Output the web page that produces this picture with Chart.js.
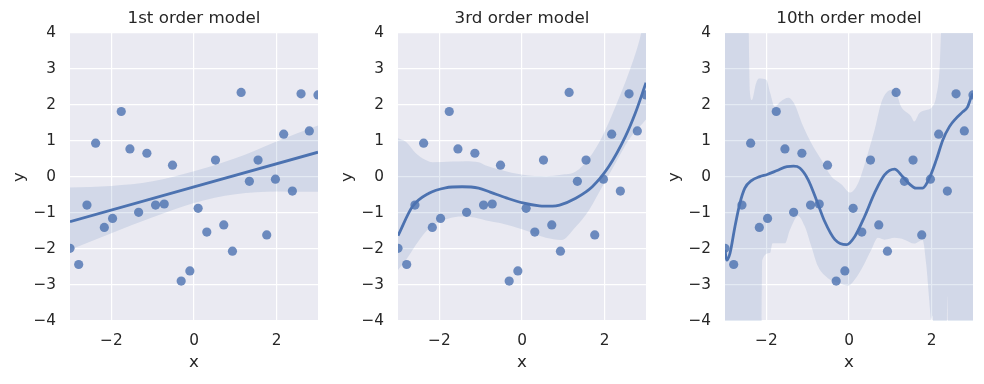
<!DOCTYPE html>
<html>
<head>
<meta charset="utf-8">
<script src="https://cdn.jsdelivr.net/npm/chart.js@4.4.1/dist/chart.umd.min.js"></script>
<style>
  html, body { margin: 0; padding: 0; background: #ffffff; }
  #wrap { position: relative; width: 984px; height: 384px; }
  .panel { position: absolute; top: 0; width: 328px; height: 384px; }
</style>
</head>
<body>
<div id="wrap">
  <div class="panel" style="left:0px"><canvas id="c1"></canvas></div>
  <div class="panel" style="left:328px"><canvas id="c2"></canvas></div>
  <div class="panel" style="left:655px"><canvas id="c3"></canvas></div>
</div>
<script>
// observations (same in all three panels)
const pointsX = [-3.0, -2.79, -2.59, -2.38, -2.17, -1.97, -1.76, -1.55, -1.34, -1.14,
                 -0.93, -0.72, -0.52, -0.31, -0.10, 0.10, 0.31, 0.52, 0.72, 0.93,
                 1.14, 1.34, 1.55, 1.76, 1.97, 2.17, 2.38, 2.59, 2.79, 3.0];
const pointsY = [-1.98, -2.43, -0.78, 0.94, -1.40, -1.15, 1.82, 0.78, -0.98, 0.66,
                 -0.78, -0.75, 0.33, -2.89, -2.61, -0.87, -1.53, 0.47, -1.33, -2.06,
                 2.35, -0.12, 0.47, -1.61, -0.06, 1.19, -0.39, 2.31, 1.28, 2.28];

const titles = ['1st order model', '3rd order model', '10th order model'];
const xTicks = [-2, 0, 2];
const yTicks = [-4, -3, -2, -1, 0, 1, 2, 3, 4];

// 1st order
const fit1X = [-3, 3];
const fit1Y = [-1.24, 0.69];
const up1X = [-3, -2, -1, 0, 1, 2, 3];
const up1Y = [-0.29, -0.25, -0.12, 0.16, 0.52, 0.99, 1.43];
const lo1X = [-3, -2, -1, 0, 1, 2, 3];
const lo1Y = [-2.02, -1.56, -1.12, -0.72, -0.48, -0.40, -0.41];

// 3rd order
const fit2X = [-3.0, -2.65, -2.25, -1.85, -1.45, -1.05, -0.77, -0.38, 0.02, 0.42, 0.74, 0.91, 1.30, 1.70, 2.10, 2.50, 2.74, 3.0];
const fit2Y = [-1.63, -0.82, -0.45, -0.30, -0.27, -0.31, -0.42, -0.58, -0.72, -0.80, -0.81, -0.78, -0.59, -0.27, 0.29, 1.12, 1.77, 2.62];
const up2X = [-3.0, -2.81, -2.57, -2.33, -2.17, -1.69, -1.37, -1.05, -0.89, -0.53, 0.02, 0.58, 0.95, 1.30, 1.62, 1.94, 2.26, 2.58, 2.82, 2.90, 3.0];
const up2Y = [1.08, 0.98, 0.66, 0.47, 0.41, 0.43, 0.44, 0.41, 0.33, 0.20, 0.06, 0.02, 0.06, 0.15, 0.52, 1.12, 1.95, 2.88, 3.71, 4.08, 4.6];
const lo2X = [-3.0, -2.81, -2.57, -2.33, -2.09, -1.77, -1.45, -1.05, -0.89, -0.53, 0.02, 0.58, 0.95, 1.30, 1.62, 1.94, 2.26, 2.58, 3.0];
const lo2Y = [-2.58, -2.31, -1.89, -1.52, -1.29, -1.15, -1.10, -1.15, -1.20, -1.28, -1.46, -1.69, -1.75, -1.38, -0.92, -0.27, 0.38, 1.03, 1.6];

// 10th order
const fit3X = [-3.0, -2.96, -2.88, -2.76, -2.64, -2.52, -2.36, -2.16, -1.98, -1.74, -1.50, -1.34, -1.19, -0.99, -0.79, -0.59, -0.34, -0.06,
               0.14, 0.38, 0.62, 0.86, 1.10, 1.30, 1.46, 1.62, 1.78, 1.94, 2.11, 2.27, 2.43, 2.59, 2.75, 2.87, 2.95, 3.0];
const fit3Y = [-2.03, -2.31, -2.12, -1.38, -0.73, -0.31, -0.10, 0.01, 0.07, 0.18, 0.29, 0.30, 0.25, -0.07, -0.63, -1.23, -1.74, -1.88,
               -1.65, -1.09, -0.44, 0.06, 0.22, 0.01, -0.19, -0.31, -0.31, -0.04, 0.47, 1.03, 1.40, 1.63, 1.81, 1.95, 2.20, 2.32];
const up3X = [-3.0, -2.44, -2.40, -2.35, -2.25, -2.18, -2.0, -1.91, -1.80, -1.65, -1.47, -1.33, -1.11, -0.91, -0.67, -0.43, -0.18,
              0.02, 0.22, 0.46, 0.62, 0.78, 0.94, 1.10, 1.26, 1.50, 1.58, 1.70, 1.87, 1.99, 2.11, 2.19, 2.23, 2.26, 3.0];
const up3Y = [4.6, 4.6, 2.4, 2.14, 2.6, 2.74, 2.7, 2.35, 1.96, 2.1, 2.2, 2.05, 1.41, 0.94, 0.48, 0.02, -0.21,
              -0.43, -0.17, 0.67, 1.31, 2.06, 2.38, 2.43, 1.96, 1.69, 1.54, 1.77, 1.86, 1.92, 2.23, 2.97, 4.1, 4.6, 4.6];
const lo3X = [-3.0, -2.12, -2.10, -1.91, -1.85, -1.55, -1.43, -1.23, -1.07, -0.91, -0.75, -0.51, -0.26, -0.02, 0.14, 0.34,
              0.54, 0.70, 0.86, 1.10, 1.34, 1.58, 1.78, 1.87, 1.94, 1.99, 2.02, 2.06, 2.36, 2.38, 2.40, 3.0];
const lo3Y = [-4.6, -4.6, -2.31, -2.11, -1.84, -1.84, -1.47, -1.08, -1.37, -1.93, -2.48, -2.81, -2.94, -3.02, -2.85, -2.48,
              -2.02, -1.69, -1.74, -1.69, -1.74, -1.85, -1.75, -2.44, -3.4, -3.97, -3.85, -4.6, -4.6, -3.3, -4.6, -4.6];

const textColor = '#262626';
const fontFamily = "'DejaVu Sans', sans-serif";

function pairs(xs, ys) {
    return xs.map((x, i) => ({ x: x, y: ys[i] }));
}

function minusSign(v) {
    return String(v).replace('-', '\u2212');
}

const plotBackground = {
    id: 'plotBackground',
    beforeDraw(chart) {
        const { ctx, chartArea: a } = chart;
        ctx.save();
        ctx.fillStyle = '#EAEAF2';
        ctx.fillRect(a.left, a.top, a.width, a.height);
        ctx.restore();
    }
};

// the built-in title centres over the whole canvas, matplotlib centres over the axes
const axesTitle = {
    id: 'axesTitle',
    afterDraw(chart, args, opts) {
        const { ctx, chartArea: a } = chart;
        ctx.save();
        ctx.fillStyle = textColor;
        ctx.font = '16.7px ' + fontFamily;
        ctx.textAlign = 'center';
        ctx.textBaseline = 'middle';
        ctx.fillText(opts.text, (a.left + a.right) / 2, 19);
        ctx.restore();
    }
};

function makePanel(id, title, fitX, fitY, upX, upY, loX, loY) {
    new Chart(document.getElementById(id), {
        type: 'line',
        data: {
            datasets: [
                {
                    data: pairs(fitX, fitY),
                    borderColor: '#4C72B0',
                    borderWidth: 2.8,
                    pointRadius: 0,
                    cubicInterpolationMode: 'monotone',
                    fill: false,
                    clip: 0,
                    order: 0
                },
                {
                    data: pairs(pointsX, pointsY),
                    showLine: false,
                    pointRadius: 4.6,
                    pointBorderWidth: 0,
                    pointBackgroundColor: 'rgba(76, 114, 176, 0.8)',
                    clip: 0,
                    order: 3
                },
                {
                    data: pairs(upX, upY),
                    borderWidth: 0,
                    borderColor: 'rgba(0,0,0,0)',
                    pointRadius: 0,
                    cubicInterpolationMode: 'monotone',
                    backgroundColor: 'rgba(76, 114, 176, 0.15)',
                    fill: '+1',
                    clip: 0,
                    order: 2
                },
                {
                    data: pairs(loX, loY),
                    borderWidth: 0,
                    borderColor: 'rgba(0,0,0,0)',
                    pointRadius: 0,
                    cubicInterpolationMode: 'monotone',
                    fill: false,
                    clip: 0,
                    order: 2
                }
            ]
        },
        options: {
            responsive: true,
            maintainAspectRatio: false,
            animation: false,
            events: [],
            layout: { padding: { left: 0, right: 10, top: 0, bottom: 0 } },
            plugins: {
                legend: { display: false },
                tooltip: { enabled: false },
                // kept only to reserve the space above the axes
                title: {
                    display: true,
                    text: title,
                    color: 'rgba(0,0,0,0)',
                    font: { family: fontFamily, size: 16.7, weight: 'normal' },
                    padding: { top: 9, bottom: 4 }
                },
                axesTitle: { text: title }
            },
            scales: {
                x: {
                    type: 'linear',
                    min: -3,
                    max: 3,
                    afterBuildTicks: (scale) => { scale.ticks = xTicks.map(v => ({ value: v })); },
                    afterFit: (scale) => { scale.height = 63; },
                    ticks: {
                        color: textColor,
                        font: { family: fontFamily, size: 15.3 },
                        padding: 11,
                        maxRotation: 0,
                        callback: minusSign
                    },
                    grid: { color: '#ffffff', lineWidth: 1.2, drawTicks: false },
                    border: { display: false },
                    title: {
                        display: true,
                        text: 'x',
                        color: textColor,
                        font: { family: fontFamily, size: 16.7 },
                        padding: { top: 0, bottom: 11 }
                    }
                },
                y: {
                    min: -4,
                    max: 4,
                    afterBuildTicks: (scale) => { scale.ticks = yTicks.map(v => ({ value: v })); },
                    afterFit: (scale) => { scale.width = 70; },
                    ticks: {
                        color: textColor,
                        font: { family: fontFamily, size: 15.3 },
                        padding: 14,
                        callback: minusSign
                    },
                    grid: { color: '#ffffff', lineWidth: 1.2, drawTicks: false },
                    border: { display: false },
                    title: {
                        display: true,
                        text: 'y',
                        color: textColor,
                        font: { family: fontFamily, size: 16.7 },
                        padding: { top: 10, bottom: 0 }
                    }
                }
            }
        },
        plugins: [plotBackground, axesTitle]
    });
}

makePanel('c1', titles[0], fit1X, fit1Y, up1X, up1Y, lo1X, lo1Y);
makePanel('c2', titles[1], fit2X, fit2Y, up2X, up2Y, lo2X, lo2Y);
makePanel('c3', titles[2], fit3X, fit3Y, up3X, up3Y, lo3X, lo3Y);
</script>
</body>
</html>
